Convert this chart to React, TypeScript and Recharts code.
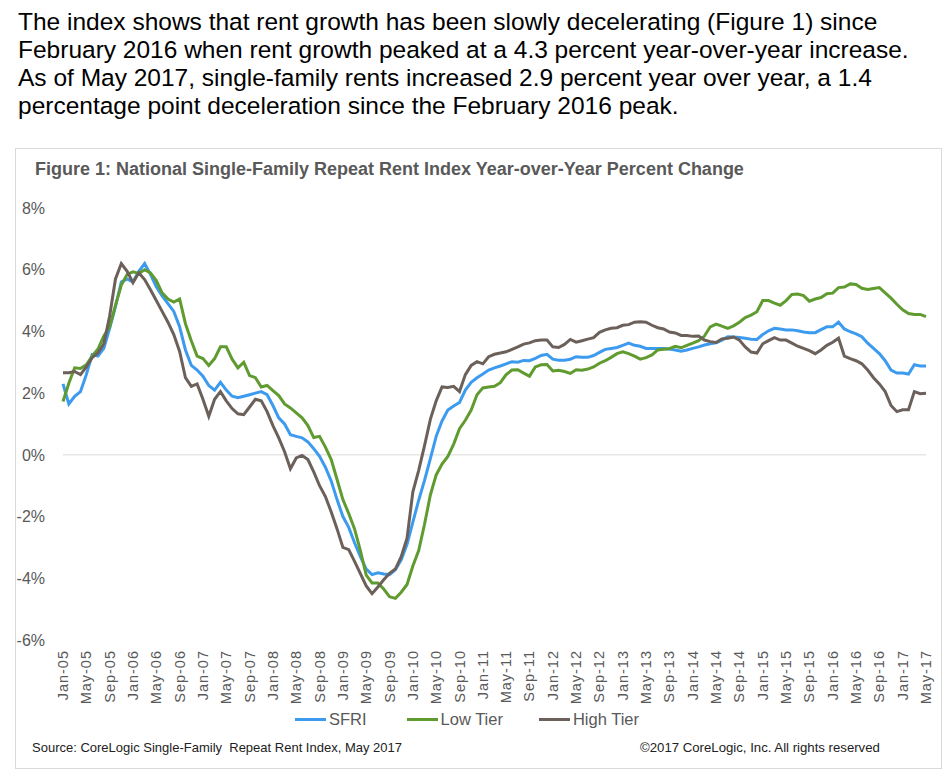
import React from 'react';
import { LineChart, Line, XAxis, YAxis, ReferenceLine } from 'recharts';

const MONTH_NAMES = ['Jan', 'Feb', 'Mar', 'Apr', 'May', 'Jun', 'Jul', 'Aug', 'Sep', 'Oct', 'Nov', 'Dec'];
const YEARS = ['05', '06', '07', '08', '09', '10', '11', '12', '13', '14', '15', '16', '17'];
const LAST_MONTH_INDEX = 4; // May-17

const sfri = [
  2.3, 1.65, 1.9, 2.05, 2.6, 3.25, 3.2, 3.45, 4.1, 4.8, 5.6, 5.7,
  5.6, 5.95, 6.2, 5.85, 5.45, 5.15, 4.9, 4.65, 4.15, 3.4, 2.9, 2.75,
  2.55, 2.25, 2.1, 2.35, 2.1, 1.9, 1.85, 1.9, 1.95, 2.0, 2.05, 1.95,
  1.6, 1.2, 1.0, 0.65, 0.6, 0.55, 0.42, 0.2, -0.05, -0.4, -0.85, -1.45,
  -2.0, -2.35, -2.85, -3.3, -3.7, -3.88, -3.82, -3.86, -3.88, -3.72, -3.4, -2.9,
  -2.18, -1.47, -0.83, -0.12, 0.6, 1.1, 1.45, 1.58, 1.7, 2.1, 2.35, 2.5,
  2.62, 2.75, 2.82, 2.88, 2.95, 3.02, 3.0, 3.06, 3.05, 3.13, 3.22, 3.26,
  3.1, 3.07, 3.07, 3.1, 3.18, 3.16, 3.16, 3.22, 3.32, 3.42, 3.45, 3.48,
  3.55, 3.62, 3.55, 3.52, 3.45, 3.45, 3.45, 3.45, 3.43, 3.4, 3.36, 3.4,
  3.45, 3.5, 3.56, 3.6, 3.63, 3.72, 3.83, 3.82, 3.8, 3.78, 3.75, 3.74,
  3.9, 4.02, 4.1, 4.08, 4.05, 4.05, 4.02, 3.98, 3.96, 3.96, 4.06, 4.15,
  4.15, 4.3, 4.08, 3.99, 3.92, 3.83, 3.62, 3.45, 3.28, 3.05, 2.75, 2.65,
  2.65, 2.62, 2.92, 2.88, 2.88,
];

const lowTier = [
  1.73, 2.32, 2.82, 2.8, 2.92, 3.2, 3.43, 3.85, 4.15, 4.85, 5.5, 5.85,
  5.93, 5.88, 6.0, 5.9, 5.65, 5.25, 5.05, 4.95, 5.05, 4.25, 3.7, 3.2,
  3.12, 2.9, 3.12, 3.5, 3.5, 3.1, 2.82, 3.0, 2.57, 2.5, 2.2, 2.25,
  2.08, 1.92, 1.65, 1.52, 1.36, 1.2, 0.95, 0.56, 0.6, 0.25, -0.15, -0.8,
  -1.45, -1.9, -2.4, -3.1, -3.9, -4.15, -4.15, -4.35, -4.6, -4.65, -4.45, -4.2,
  -3.6, -3.1, -2.25, -1.3, -0.65, -0.3, -0.05, 0.35, 0.85, 1.12, 1.45, 1.95,
  2.17, 2.2, 2.22, 2.34, 2.6, 2.75, 2.76, 2.65, 2.55, 2.85, 2.92, 2.93,
  2.72, 2.74, 2.7, 2.64, 2.76, 2.74, 2.78, 2.85, 2.97, 3.05, 3.16, 3.28,
  3.34, 3.28, 3.2, 3.1, 3.15, 3.24, 3.4, 3.42, 3.44, 3.52, 3.47, 3.55,
  3.62, 3.7, 3.85, 4.15, 4.24, 4.17, 4.1, 4.18, 4.3, 4.45, 4.53, 4.64,
  5.0, 5.0, 4.92, 4.85, 5.0, 5.2, 5.21, 5.16, 4.98, 5.05, 5.1, 5.22,
  5.24, 5.42, 5.44, 5.54, 5.52, 5.4, 5.36, 5.39, 5.42, 5.25, 5.08, 4.88,
  4.7, 4.58, 4.55, 4.55, 4.48,
];

const highTier = [
  2.66, 2.66, 2.7, 2.6, 2.85, 3.15, 3.3, 3.6, 4.5, 5.7, 6.2, 5.95,
  5.58, 5.9, 5.68, 5.35, 5.0, 4.65, 4.3, 3.9, 3.35, 2.5, 2.22, 2.3,
  1.8, 1.25, 1.8, 2.05, 1.75, 1.5, 1.33, 1.3, 1.55, 1.8, 1.75, 1.4,
  0.95, 0.55, 0.1, -0.45, -0.1, -0.02, -0.15, -0.55, -1.0, -1.35, -1.85, -2.4,
  -3.0, -3.07, -3.45, -3.85, -4.25, -4.5, -4.28, -4.05, -3.84, -3.7, -3.3, -2.7,
  -1.2, -0.5, 0.3, 1.15, 1.75, 2.2, 2.18, 2.22, 2.05, 2.6, 2.9, 3.02,
  2.95, 3.18, 3.26, 3.3, 3.34, 3.42, 3.5, 3.59, 3.63, 3.7, 3.72, 3.72,
  3.5, 3.48, 3.58, 3.74, 3.65, 3.7, 3.75, 3.8, 3.97, 4.05, 4.1, 4.12,
  4.2, 4.22, 4.3, 4.31, 4.3, 4.2, 4.12, 4.08, 3.98, 3.95, 3.87, 3.87,
  3.84, 3.85, 3.72, 3.67, 3.64, 3.76, 3.78, 3.82, 3.72, 3.5, 3.33, 3.3,
  3.6, 3.7, 3.8, 3.72, 3.72, 3.62, 3.52, 3.45, 3.38, 3.28, 3.4, 3.55,
  3.65, 3.78, 3.2, 3.12, 3.05, 2.95, 2.75, 2.5, 2.3, 2.05, 1.6, 1.4,
  1.46, 1.46, 2.05, 1.98, 2.0,
];

const Y_TICKS = [-6, -4, -2, 0, 2, 4, 6, 8];

const SERIES = [
  { key: 'sfri', name: 'SFRI', color: '#3D9BEF', values: sfri },
  { key: 'low', name: 'Low Tier', color: '#5F9B2F', values: lowTier },
  { key: 'high', name: 'High Tier', color: '#6B605A', values: highTier },
];

const PARAGRAPH_LINES = [
  'The index shows that rent growth has been slowly decelerating (Figure 1) since',
  'February 2016 when rent growth peaked at a 4.3 percent year-over-year increase.',
  'As of May 2017, single-family rents increased 2.9 percent year over year, a 1.4',
  'percentage point deceleration since the February 2016 peak.',
];

const TITLE = 'Figure 1: National Single-Family Repeat Rent Index Year-over-Year Percent Change';
const SOURCE = 'Source: CoreLogic Single-Family  Repeat Rent Index, May 2017';
const COPYRIGHT = '\u00A92017 CoreLogic, Inc. All rights reserved';

const months: string[] = [];
YEARS.forEach((yy, yi) => {
  MONTH_NAMES.forEach((m, mi) => {
    if (yi === YEARS.length - 1 && mi > LAST_MONTH_INDEX) return;
    months.push(`${m}-${yy}`);
  });
});

const data = months.map((month, i) => {
  const row: Record<string, string | number> = { month };
  SERIES.forEach((s) => {
    row[s.key] = s.values[i];
  });
  return row;
});

const FONT = 'Arial, "Liberation Sans", sans-serif';

const XTick = (props: any) => {
  const { x, y, payload } = props;
  return (
    <text
      x={x}
      y={y}
      transform={`rotate(-90, ${x}, ${y})`}
      textAnchor="end"
      dominantBaseline="central"
      fontSize={14.5}
      fill="#595959"
      fontFamily={FONT}
      letterSpacing={1}
    >
      {payload.value}
    </text>
  );
};

export default function App() {
  return (
    <div style={{ position: 'relative', width: 952, height: 769, background: '#fff', fontFamily: FONT, overflow: 'hidden' }}>
      <style>{'body{margin:0;}'}</style>
      <div style={{ position: 'absolute', left: 18, top: 8, fontSize: 24.5, lineHeight: '28px', color: '#000', whiteSpace: 'nowrap' }}>
        {PARAGRAPH_LINES.map((l, i) => (
          <div key={i}>{l}</div>
        ))}
      </div>
      <div style={{ position: 'absolute', left: 15, top: 148, width: 925, height: 619, border: '1px solid #d9d9d9' }} />
      <div style={{ position: 'absolute', left: 35, top: 158, fontSize: 18, fontWeight: 'bold', color: '#595959', whiteSpace: 'nowrap', lineHeight: '22px' }}>
        {TITLE}
      </div>
      <div style={{ position: 'absolute', left: 0, top: 0 }}>
        <LineChart
          width={952}
          height={769}
          data={data}
          margin={{ top: 208, right: 26, bottom: 69, left: 0 }}
        >
          <YAxis
            width={63}
            domain={[-6, 8]}
            ticks={Y_TICKS}
            tickFormatter={(v: number) => `${v}%`}
            axisLine={false}
            tickLine={false}
            tickSize={6}
            tickMargin={12}
            tick={{ fontSize: 16, fill: '#595959', fontFamily: FONT }}
            allowDataOverflow
          />
          <XAxis
            dataKey="month"
            interval={3}
            height={60}
            axisLine={false}
            tickLine={false}
            tickSize={6}
            tickMargin={4}
            tick={<XTick />}
          />
          <ReferenceLine y={0} stroke="#d9d9d9" strokeWidth={1} />
          {SERIES.map((s) => (
            <Line
              key={s.key}
              type="linear"
              dataKey={s.key}
              name={s.name}
              stroke={s.color}
              strokeWidth={3}
              dot={false}
              isAnimationActive={false}
            />
          ))}
        </LineChart>
      </div>
      <div style={{ position: 'absolute', left: 295, top: 709, display: 'flex', alignItems: 'center', fontSize: 16.5, color: '#595959', height: 20 }}>
        {SERIES.map((s, i) => (
          <div key={s.key} style={{ display: 'flex', alignItems: 'center', marginRight: i === 0 ? 40 : 36 }}>
            <div style={{ width: 31, height: 3, background: s.color, marginRight: 3 }} />
            <span>{s.name}</span>
          </div>
        ))}
      </div>
      <div style={{ position: 'absolute', left: 32, top: 740, fontSize: 13, color: '#222', whiteSpace: 'pre' }}>{SOURCE}</div>
      <div style={{ position: 'absolute', left: 640, top: 740, fontSize: 13.2, color: '#222', whiteSpace: 'pre' }}>{COPYRIGHT}</div>
    </div>
  );
}
